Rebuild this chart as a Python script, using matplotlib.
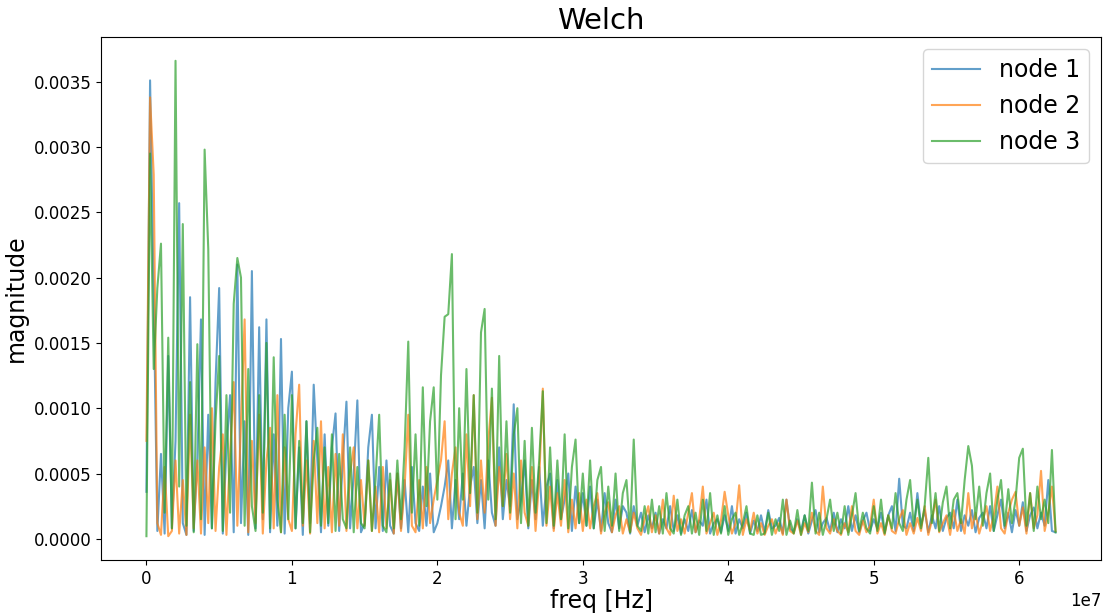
import numpy as np
import matplotlib.pyplot as plt

# Welch PSD magnitudes, in units of 1e-5, one value per 0.25 MHz bin
node1 = [
    36, 351, 184, 6, 65, 4, 140, 8, 75, 257,
    12, 3, 185, 6, 60, 168, 3, 95, 8, 120,
    192, 4, 70, 110, 5, 210, 12, 90, 3, 205,
    8, 162, 15, 168, 5, 80, 10, 153, 4, 100,
    128, 8, 70, 3, 90, 12, 118, 60, 5, 80,
    10, 70, 96, 6, 60, 105, 8, 50, 106, 5,
    12, 70, 95, 8, 55, 6, 60, 10, 4, 50,
    8, 45, 5, 55, 12, 6, 40, 10, 50, 5,
    12, 25, 40, 60, 8, 45, 15, 50, 10, 40,
    55, 12, 45, 8, 60, 20, 10, 70, 15, 45,
    25, 103, 15, 30, 60, 8, 45, 15, 55, 10,
    40, 50, 8, 45, 15, 30, 50, 6, 40, 12,
    35, 10, 40, 8, 30, 6, 35, 12, 5, 30,
    8, 25, 20, 4, 25, 10, 20, 5, 18, 8,
    20, 4, 15, 8, 25, 6, 18, 4, 15, 6,
    22, 5, 14, 10, 30, 4, 12, 15, 5, 18,
    6, 25, 4, 15, 8, 20, 4, 14, 6, 18,
    5, 22, 8, 10, 16, 4, 30, 8, 5, 15,
    6, 18, 4, 14, 22, 5, 12, 16, 6, 20,
    5, 15, 8, 25, 6, 18, 5, 14, 20, 6,
    15, 8, 20, 5, 18, 25, 6, 46, 10, 8,
    20, 6, 35, 10, 22, 5, 18, 8, 25, 6,
    16, 20, 8, 30, 6, 18, 10, 22, 5, 16,
    20, 8, 25, 6, 18, 30, 8, 20, 5, 22,
    10, 28, 6, 18, 24, 8, 20, 10, 45, 6,
    5,
]
node2 = [
    75, 338, 279, 12, 3, 55, 2, 6, 60, 4,
    45, 3, 95, 8, 60, 4, 70, 12, 100, 6,
    55, 80, 3, 65, 120, 10, 90, 168, 5, 75,
    12, 95, 4, 60, 85, 8, 110, 5, 70, 15,
    6, 80, 118, 10, 60, 4, 75, 12, 90, 8,
    55, 5, 65, 10, 80, 6, 50, 70, 8, 45,
    10, 60, 6, 40, 5, 55, 8, 45, 4, 50,
    6, 40, 95, 10, 5, 45, 8, 55, 12, 30,
    45, 60, 90, 15, 50, 70, 20, 10, 80, 25,
    110, 15, 60, 20, 75, 108, 10, 55, 25, 65,
    15, 50, 8, 60, 20, 10, 55, 6, 45, 115,
    10, 40, 6, 35, 10, 45, 5, 30, 8, 35,
    6, 30, 8, 25, 35, 4, 20, 28, 5, 18,
    25, 4, 15, 5, 20, 8, 3, 15, 25, 5,
    18, 4, 30, 8, 3, 33, 6, 15, 4, 20,
    35, 5, 15, 40, 4, 12, 20, 3, 14, 36,
    18, 4, 12, 41, 3, 15, 6, 20, 4, 12,
    3, 10, 15, 4, 12, 3, 30, 6, 4, 14,
    3, 12, 5, 20, 6, 3, 40, 8, 4, 15,
    6, 3, 12, 5, 25, 6, 3, 14, 5, 10,
    30, 4, 12, 3, 18, 6, 4, 15, 22, 3,
    12, 4, 16, 6, 25, 3, 14, 30, 5, 12,
    18, 3, 22, 6, 15, 4, 35, 8, 20, 4,
    14, 25, 6, 18, 40, 8, 4, 20, 30, 36,
    10, 24, 4, 35, 8, 18, 52, 6, 20, 40,
    6,
]
node3 = [
    2, 295, 130, 192, 226, 20, 154, 8, 366, 40,
    241, 10, 120, 5, 149, 15, 298, 222, 8, 90,
    140, 6, 110, 20, 180, 215, 200, 10, 130, 25,
    6, 110, 20, 150, 8, 139, 30, 5, 95, 15,
    110, 8, 75, 12, 90, 5, 60, 85, 10, 70,
    12, 80, 6, 65, 15, 8, 70, 5, 55, 12,
    8, 60, 6, 45, 95, 10, 5, 50, 8, 60,
    15, 70, 151, 20, 80, 10, 116, 25, 90, 116,
    30, 125, 170, 172, 218, 15, 100, 30, 130, 35,
    110, 20, 158, 176, 30, 115, 15, 140, 25, 90,
    20, 80, 100, 12, 75, 10, 85, 20, 60, 113,
    12, 70, 10, 60, 15, 80, 8, 55, 76, 12,
    50, 10, 60, 8, 45, 55, 6, 40, 10, 50,
    6, 35, 45, 5, 76, 10, 6, 25, 4, 30,
    5, 25, 4, 35, 8, 4, 30, 3, 18, 25,
    4, 20, 3, 30, 6, 35, 3, 18, 4, 25,
    3, 15, 20, 3, 12, 25, 4, 3, 18, 3,
    4, 20, 3, 15, 6, 30, 3, 14, 4, 22,
    3, 18, 6, 43, 4, 20, 3, 15, 30, 6,
    20, 4, 25, 3, 18, 35, 6, 20, 8, 4,
    25, 6, 30, 4, 18, 8, 35, 12, 6, 30,
    45, 10, 30, 8, 25, 62, 12, 35, 6, 28,
    40, 8, 30, 35, 12, 45, 71, 56, 15, 40,
    10, 35, 50, 6, 30, 45, 10, 38, 12, 30,
    62, 69, 10, 35, 6, 40, 15, 30, 12, 68,
    5,
]
labels = ["node 1", "node 2", "node 3"]

freq = np.linspace(0, 6.25e7, len(node1))

fig = plt.figure(figsize=(11.06, 6.14), dpi=100)
ax = fig.add_axes([0.0913, 0.088, 0.9042, 0.8517])
for vals, lab in zip([node1, node2, node3], labels):
    ax.plot(freq, np.array(vals) * 1e-5, label=lab, alpha=0.7, lw=1.5)

ax.set_title("Welch", fontsize=21)
ax.set_xlabel("freq [Hz]", fontsize=17, labelpad=1)
ax.set_ylabel("magnitude", fontsize=17, labelpad=4)
ax.tick_params(labelsize=12)
ax.xaxis.get_offset_text().set_fontsize(12)
ax.legend(loc="upper right", fontsize=17)

fig.savefig("out.png", dpi=100)
